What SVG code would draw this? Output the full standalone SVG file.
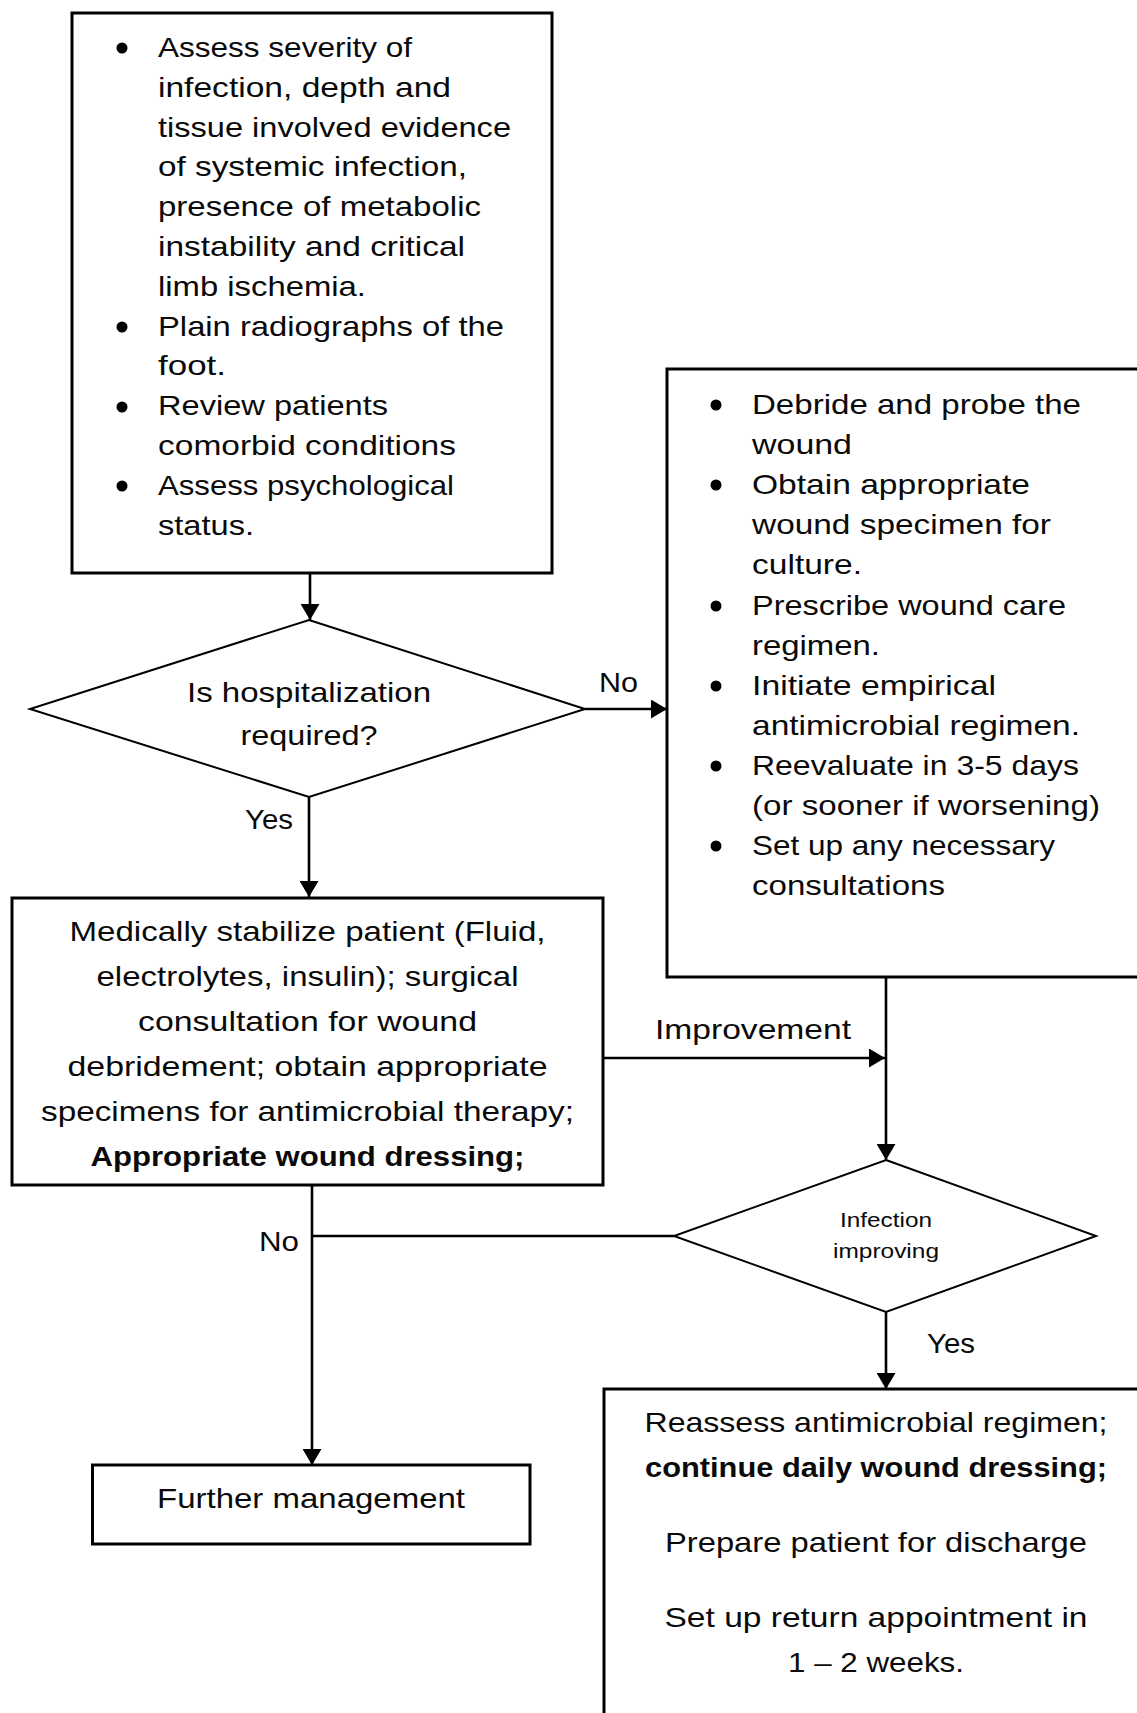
<svg xmlns="http://www.w3.org/2000/svg" width="1137" height="1713" viewBox="0 0 1137 1713">
<defs>
<style>
text{font-family:"Liberation Sans",Arial,sans-serif;font-size:28px;fill:#0a0a0a}
.b{font-weight:bold}
.c{text-anchor:middle}
.s{font-size:21px}
.box{fill:#fff;stroke:#000;stroke-width:3}
.dia{fill:#fff;stroke:#000;stroke-width:2}
.ln{fill:none;stroke:#000;stroke-width:2.6}
.dot{fill:#000}
</style>
<marker id="ah" markerUnits="userSpaceOnUse" markerWidth="16" markerHeight="19" refX="16" refY="9.5" orient="auto">
<path d="M0,0 L16,9.5 L0,19 z" fill="#000"/>
</marker>
</defs>
<rect width="1137" height="1713" fill="#fff"/>

<g id="connectors">
<line class="ln" x1="310" y1="573" x2="310" y2="620" marker-end="url(#ah)"/>
<line class="ln" x1="585" y1="709" x2="667" y2="709" marker-end="url(#ah)"/>
<line class="ln" x1="309" y1="797" x2="309" y2="897" marker-end="url(#ah)"/>
<line class="ln" x1="603" y1="1058" x2="885" y2="1058" marker-end="url(#ah)"/>
<line class="ln" x1="886" y1="977" x2="886" y2="1160" marker-end="url(#ah)"/>
<line class="ln" x1="674" y1="1236" x2="312" y2="1236"/>
<line class="ln" x1="312" y1="1185" x2="312" y2="1465" marker-end="url(#ah)"/>
<line class="ln" x1="886" y1="1312" x2="886" y2="1389" marker-end="url(#ah)"/>
<text x="599" y="692" textLength="39" lengthAdjust="spacingAndGlyphs">No</text>
<text x="245" y="829" textLength="48" lengthAdjust="spacingAndGlyphs">Yes</text>
<text x="655" y="1039" textLength="196" lengthAdjust="spacingAndGlyphs">Improvement</text>
<text x="259" y="1251" textLength="40" lengthAdjust="spacingAndGlyphs">No</text>
<text x="927" y="1353" textLength="48" lengthAdjust="spacingAndGlyphs">Yes</text>
</g>

<g id="assess">
<rect class="box" x="72" y="13" width="480" height="560"/>
<circle class="dot" cx="122" cy="48" r="5.5"/>
<circle class="dot" cx="122" cy="327" r="5.5"/>
<circle class="dot" cx="122" cy="407" r="5.5"/>
<circle class="dot" cx="122" cy="486" r="5.5"/>
<text x="158" y="57" textLength="254" lengthAdjust="spacingAndGlyphs">Assess severity of</text>
<text x="158" y="97" textLength="293" lengthAdjust="spacingAndGlyphs">infection, depth and</text>
<text x="158" y="137" textLength="353" lengthAdjust="spacingAndGlyphs">tissue involved evidence</text>
<text x="158" y="176" textLength="309" lengthAdjust="spacingAndGlyphs">of systemic infection,</text>
<text x="158" y="216" textLength="323" lengthAdjust="spacingAndGlyphs">presence of metabolic</text>
<text x="158" y="256" textLength="307" lengthAdjust="spacingAndGlyphs">instability and critical</text>
<text x="158" y="296" textLength="208" lengthAdjust="spacingAndGlyphs">limb ischemia.</text>
<text x="158" y="336" textLength="346" lengthAdjust="spacingAndGlyphs">Plain radiographs of the</text>
<text x="158" y="375" textLength="68" lengthAdjust="spacingAndGlyphs">foot.</text>
<text x="158" y="415" textLength="230" lengthAdjust="spacingAndGlyphs">Review patients</text>
<text x="158" y="455" textLength="298" lengthAdjust="spacingAndGlyphs">comorbid conditions</text>
<text x="158" y="495" textLength="296" lengthAdjust="spacingAndGlyphs">Assess psychological</text>
<text x="158" y="535" textLength="96" lengthAdjust="spacingAndGlyphs">status.</text>
</g>

<g id="hospitalization">
<polygon class="dia" points="309,620 585,709 309,797 30,709"/>
<text class="c" x="309" y="702" textLength="244" lengthAdjust="spacingAndGlyphs">Is hospitalization</text>
<text class="c" x="309" y="745" textLength="137" lengthAdjust="spacingAndGlyphs">required?</text>
</g>

<g id="outpatient">
<rect class="box" x="667" y="369" width="490" height="608"/>
<circle class="dot" cx="716" cy="405" r="5.5"/>
<circle class="dot" cx="716" cy="485" r="5.5"/>
<circle class="dot" cx="716" cy="606" r="5.5"/>
<circle class="dot" cx="716" cy="686" r="5.5"/>
<circle class="dot" cx="716" cy="766" r="5.5"/>
<circle class="dot" cx="716" cy="846" r="5.5"/>
<text x="752" y="414" textLength="329" lengthAdjust="spacingAndGlyphs">Debride and probe the</text>
<text x="752" y="454" textLength="100" lengthAdjust="spacingAndGlyphs">wound</text>
<text x="752" y="494" textLength="278" lengthAdjust="spacingAndGlyphs">Obtain appropriate</text>
<text x="752" y="534" textLength="299" lengthAdjust="spacingAndGlyphs">wound specimen for</text>
<text x="752" y="574" textLength="110" lengthAdjust="spacingAndGlyphs">culture.</text>
<text x="752" y="615" textLength="314" lengthAdjust="spacingAndGlyphs">Prescribe wound care</text>
<text x="752" y="655" textLength="128" lengthAdjust="spacingAndGlyphs">regimen.</text>
<text x="752" y="695" textLength="244" lengthAdjust="spacingAndGlyphs">Initiate empirical</text>
<text x="752" y="735" textLength="328" lengthAdjust="spacingAndGlyphs">antimicrobial regimen.</text>
<text x="752" y="775" textLength="327" lengthAdjust="spacingAndGlyphs">Reevaluate in 3-5 days</text>
<text x="752" y="815" textLength="348" lengthAdjust="spacingAndGlyphs">(or sooner if worsening)</text>
<text x="752" y="855" textLength="303" lengthAdjust="spacingAndGlyphs">Set up any necessary</text>
<text x="752" y="895" textLength="193" lengthAdjust="spacingAndGlyphs">consultations</text>
</g>

<g id="stabilize">
<rect class="box" x="12" y="898" width="591" height="287"/>
<text class="c" x="307.5" y="941" textLength="476" lengthAdjust="spacingAndGlyphs">Medically stabilize patient (Fluid,</text>
<text class="c" x="307.5" y="986" textLength="422" lengthAdjust="spacingAndGlyphs">electrolytes, insulin); surgical</text>
<text class="c" x="307.5" y="1031" textLength="339" lengthAdjust="spacingAndGlyphs">consultation for wound</text>
<text class="c" x="307.5" y="1076" textLength="480" lengthAdjust="spacingAndGlyphs">debridement; obtain appropriate</text>
<text class="c" x="307.5" y="1121" textLength="533" lengthAdjust="spacingAndGlyphs">specimens for antimicrobial therapy;</text>
<text class="c b" x="307.5" y="1166" textLength="434" lengthAdjust="spacingAndGlyphs">Appropriate wound dressing;</text>
</g>

<g id="improving">
<polygon class="dia" points="886,1160 1096,1236 886,1312 674,1236"/>
<text class="c s" x="886" y="1227" textLength="92" lengthAdjust="spacingAndGlyphs">Infection</text>
<text class="c s" x="886" y="1258" textLength="106" lengthAdjust="spacingAndGlyphs">improving</text>
</g>

<g id="further">
<rect class="box" x="92.5" y="1465" width="437.5" height="79"/>
<text class="c" x="311" y="1508" textLength="308" lengthAdjust="spacingAndGlyphs">Further management</text>
</g>

<g id="discharge">
<rect class="box" x="604" y="1389" width="560" height="360"/>
<text class="c" x="876" y="1432" textLength="463" lengthAdjust="spacingAndGlyphs">Reassess antimicrobial regimen;</text>
<text class="c b" x="876" y="1477" textLength="462" lengthAdjust="spacingAndGlyphs">continue daily wound dressing;</text>
<text class="c" x="876" y="1552" textLength="422" lengthAdjust="spacingAndGlyphs">Prepare patient for discharge</text>
<text class="c" x="876" y="1627" textLength="423" lengthAdjust="spacingAndGlyphs">Set up return appointment in</text>
<text class="c" x="876" y="1672" textLength="176" lengthAdjust="spacingAndGlyphs">1 – 2 weeks.</text>
</g>
</svg>
